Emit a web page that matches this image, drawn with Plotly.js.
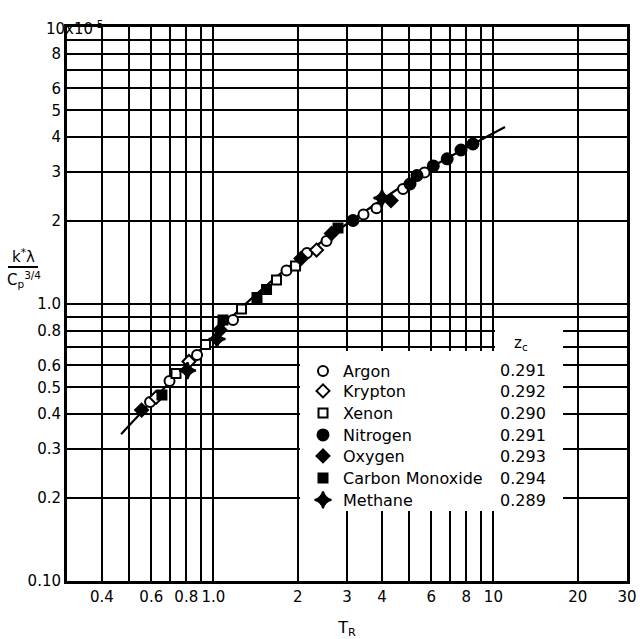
<!DOCTYPE html>
<html>
<head>
<meta charset="utf-8">
<script src="https://cdn.plot.ly/plotly-3.0.1.min.js"></script>
<style>html,body{margin:0;padding:0;background:#fff;}#chart{width:640px;height:639px;}</style>
</head>
<body>
<div id="chart"></div>
<script>
// ---- data ----
var argonX = [0.594, 0.697, 0.874, 1.175, 1.824, 2.159, 2.535, 3.436, 3.824, 4.755, 5.675];
var argonY = [0.443, 0.527, 0.655, 0.875, 1.321, 1.528, 1.688, 2.104, 2.216, 2.602, 2.983];
var kryptonX = [0.624, 0.818, 2.335];
var kryptonY = [0.460, 0.620, 1.566];
var xenonX = [0.735, 0.937, 1.260, 1.680, 1.965];
var xenonY = [0.561, 0.714, 0.959, 1.221, 1.372];
var nitrogenX = [3.152, 5.036, 5.335, 6.10, 6.84, 7.66, 8.45];
var nitrogenY = [2.002, 2.712, 2.910, 3.150, 3.344, 3.597, 3.781];
var oxygenX = [0.554, 1.056, 2.056, 2.641, 4.308];
var oxygenY = [0.414, 0.806, 1.460, 1.797, 2.363];
var coX = [0.655, 1.082, 1.431, 1.548, 2.786];
var coY = [0.469, 0.875, 1.056, 1.128, 1.881];
var methaneX = [0.808, 1.030, 4.000];
var methaneY = [0.575, 0.747, 2.413];
var curveX = [0.468, 0.933, 1.245, 2.039, 3.936, 5.94, 11.0];
var curveY = [0.339, 0.711, 0.959, 1.466, 2.354, 3.097, 4.355];

var seriesNames = ['Argon', 'Krypton', 'Xenon', 'Nitrogen', 'Oxygen', 'Carbon Monoxide', 'Methane'];
var zcValues = ['0.291', '0.292', '0.290', '0.291', '0.293', '0.294', '0.289'];

var xTickVals = [0.4,0.5,0.6,0.7,0.8,0.9,1,2,3,4,5,6,7,8,9,10,20,30];
var xTickText = ['0.4','','0.6','','0.8','','1.0','2','3','4','','6','','8','','10','20','30'];
var yTickVals = [0.1,0.2,0.3,0.4,0.5,0.6,0.7,0.8,0.9,1,2,3,4,5,6,7,8,9,10];
var yTickText = ['0.10','0.2','0.3','0.4','0.5','0.6','','0.8','','1.0','2','3','4','5','6','','8','',''];

// ---- figure ----
var FONT = 'DejaVu Sans, Liberation Sans, sans-serif';
var L = 67, R = 627, T = 27, B = 581;
function px(xp){ return (xp - L) / (R - L); }
function py(yp){ return (B - yp) / (B - T); }

var seriesData = [
  [argonX, argonY, 'circle', 'white', 10],
  [kryptonX, kryptonY, 'diamond', 'white', 10],
  [xenonX, xenonY, 'square', 'white', 9],
  [nitrogenX, nitrogenY, 'circle', 'black', 11],
  [oxygenX, oxygenY, 'diamond', 'black', 10],
  [coX, coY, 'square', 'black', 9],
  [methaneX, methaneY, 'star-diamond', 'black', 12]
];
var rowY = [371, 391, 413, 435, 456, 478, 500];

var traces = [{
  x: curveX, y: curveY, mode: 'lines', type: 'scatter',
  line: {color: 'black', width: 2.2, shape: 'spline', smoothing: 0.8},
  showlegend: false, hoverinfo: 'skip'
}];
var layoutLegends = {};
seriesData.forEach(function(s, i){
  var lg = i === 0 ? 'legend' : 'legend' + (i + 1);
  traces.push({
    x: s[0], y: s[1], mode: 'markers', type: 'scatter', name: seriesNames[i],
    legend: lg,
    marker: {symbol: s[2], color: s[3], size: s[4], line: {color: 'black', width: 2}}
  });
  layoutLegends[lg] = {
    x: px(303), y: py(rowY[i]), xanchor: 'left', yanchor: 'middle',
    bgcolor: 'rgba(0,0,0,0)', borderwidth: 0,
    font: {family: FONT, size: 16, color: 'black'}
  };
});

var annotations = [
  {xref: 'paper', yref: 'paper', x: px(521), y: py(343), text: 'z<sub>c</sub>', showarrow: false,
   xanchor: 'center', yanchor: 'middle', font: {family: FONT, size: 15, color: 'black'}},
  {xref: 'paper', yref: 'paper', x: px(44), y: py(28), text: '10x10<sup>-5</sup>', showarrow: false,
   xanchor: 'left', yanchor: 'middle', font: {family: FONT, size: 15, color: 'black'}},
  {xref: 'paper', yref: 'paper', x: px(23), y: py(256), text: 'k<sup>*</sup>λ', showarrow: false,
   xanchor: 'center', yanchor: 'middle', font: {family: FONT, size: 15, color: 'black'}},
  {xref: 'paper', yref: 'paper', x: px(24), y: py(279), text: 'C<sub>p</sub><sup>3/4</sup>', showarrow: false,
   xanchor: 'center', yanchor: 'middle', font: {family: FONT, size: 15, color: 'black'}}
];
zcValues.forEach(function(v, i){
  annotations.push({xref: 'paper', yref: 'paper', x: px(548), y: py(rowY[i]), text: v, showarrow: false,
    xanchor: 'right', yanchor: 'middle', font: {family: FONT, size: 16, color: 'black'}});
});

var layout = {
  width: 640, height: 639,
  margin: {l: L, r: 640 - R, t: T, b: 639 - B, pad: 0},
  paper_bgcolor: 'white', plot_bgcolor: 'white',
  font: {family: FONT, size: 16, color: 'black'},
  xaxis: {
    type: 'log', range: [Math.log10(0.3), Math.log10(30) + 1e-6],
    tickmode: 'array', tickvals: xTickVals, ticktext: xTickText, tickangle: 0,
    showgrid: true, gridcolor: 'black', gridwidth: 2,
    showline: true, linecolor: 'black', linewidth: 3, mirror: true,
    ticks: '', zeroline: false, fixedrange: true, automargin: false,
    tickfont: {family: FONT, size: 15, color: 'black'},
    title: {text: 'T<sub>R</sub>', font: {family: FONT, size: 16, color: 'black'}, standoff: 24}
  },
  yaxis: {
    type: 'log', range: [-1 - 1e-6, 1 + 1e-6],
    tickmode: 'array', tickvals: yTickVals, ticktext: yTickText,
    showgrid: true, gridcolor: 'black', gridwidth: 2,
    showline: true, linecolor: 'black', linewidth: 3, mirror: true,
    ticks: '', zeroline: false, fixedrange: true, automargin: false,
    tickfont: {family: FONT, size: 15, color: 'black'}
  },
  shapes: [
    {type: 'rect', xref: 'paper', yref: 'paper', x0: px(300), x1: px(563), y0: py(511), y1: py(351),
     fillcolor: 'white', line: {width: 0}, layer: 'above'},
    {type: 'rect', xref: 'paper', yref: 'paper', x0: px(495), x1: px(563), y0: py(351), y1: py(324),
     fillcolor: 'white', line: {width: 0}, layer: 'above'},
    {type: 'line', xref: 'paper', yref: 'paper', x0: px(8), x1: px(38), y0: py(267), y1: py(267),
     line: {color: 'black', width: 2}, layer: 'above'}
  ],
  annotations: annotations,
  showlegend: true
};
Object.keys(layoutLegends).forEach(function(k){ layout[k] = layoutLegends[k]; });

Plotly.newPlot('chart', traces, layout, {displayModeBar: false, staticPlot: true});
</script>
</body>
</html>
